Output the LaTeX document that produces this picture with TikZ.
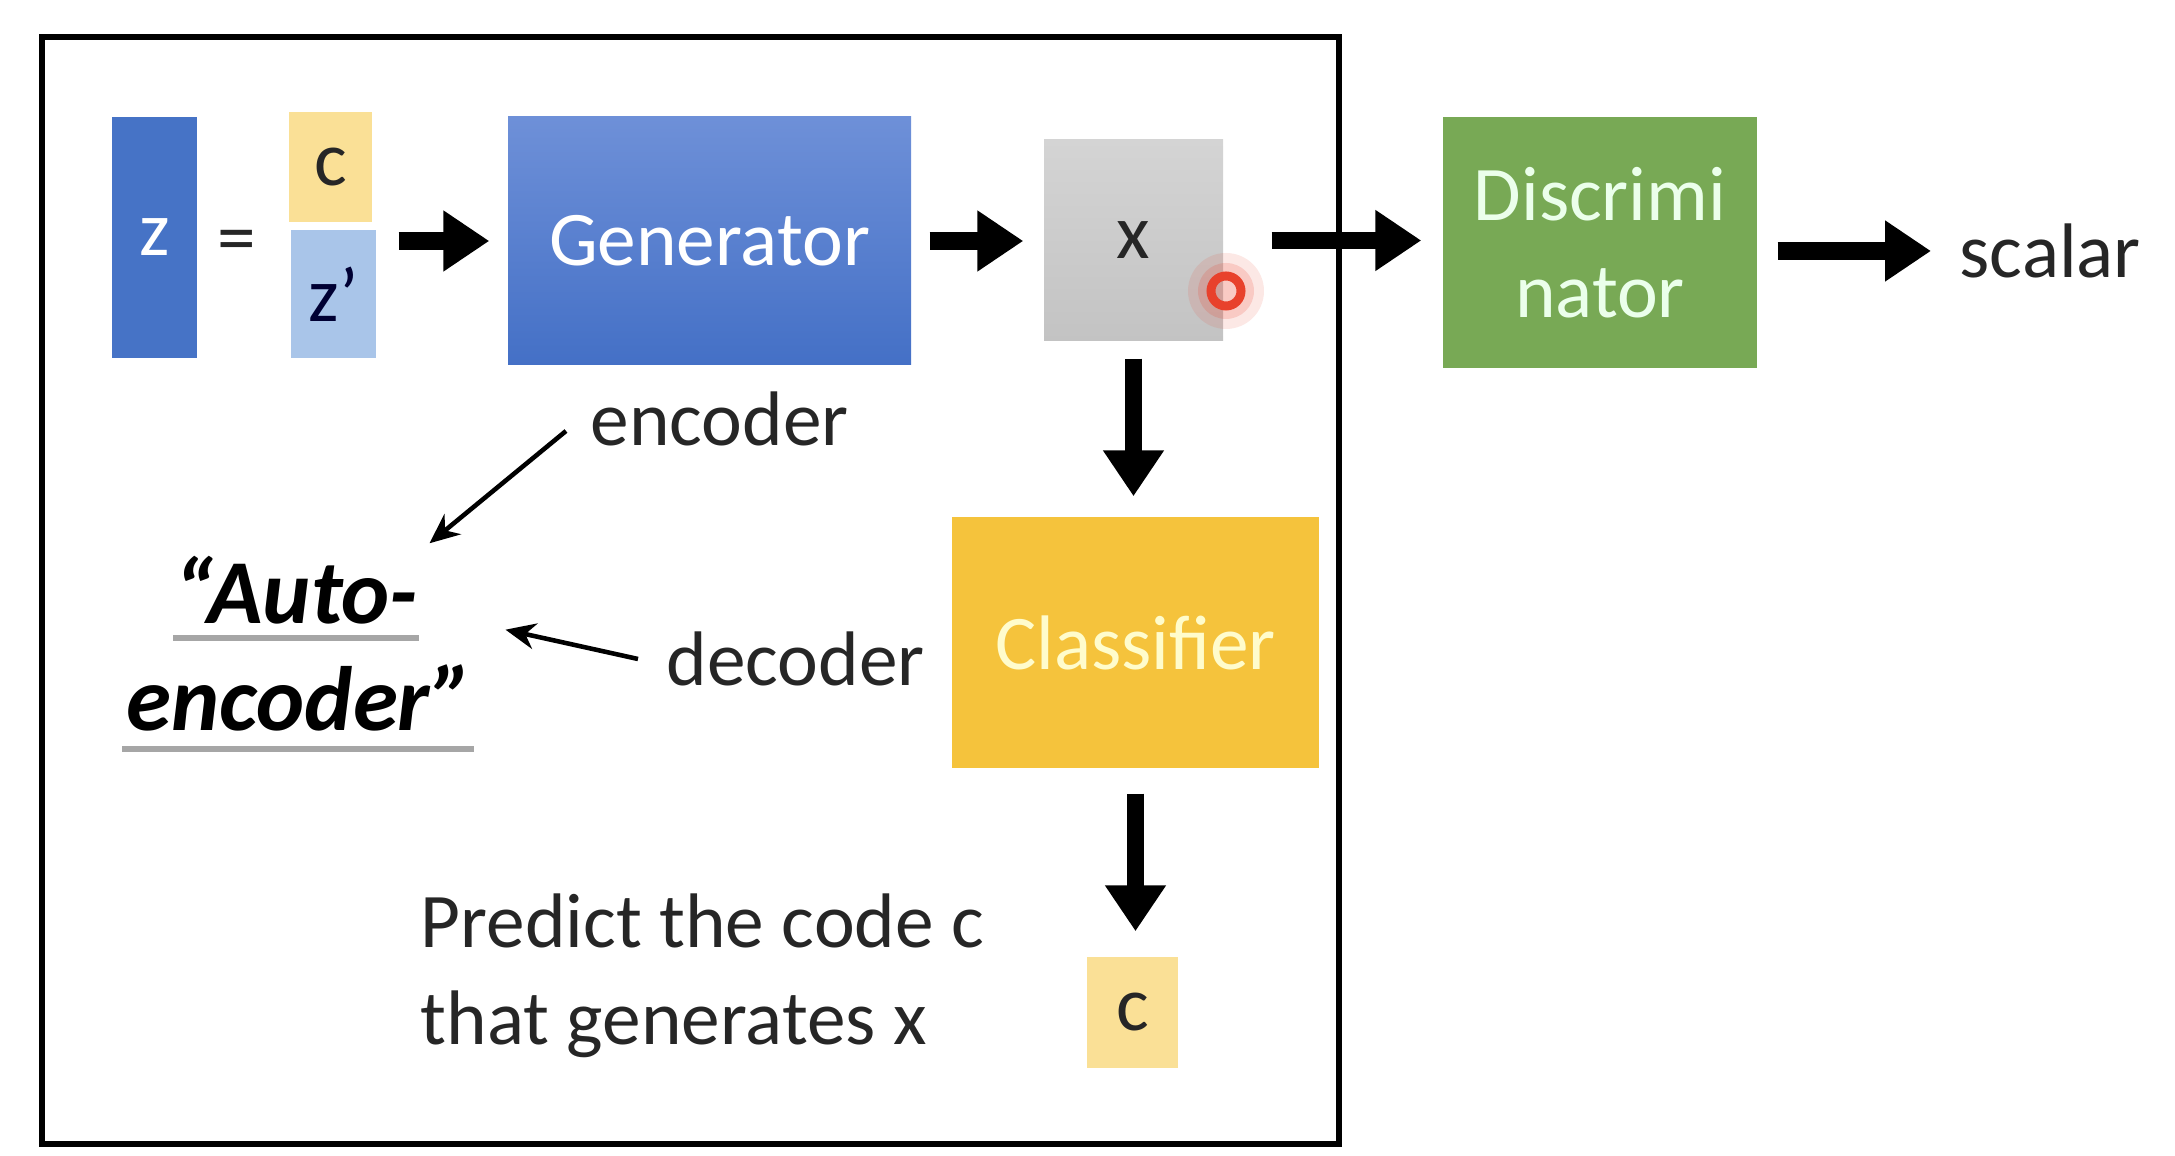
\documentclass[tikz,border=0pt]{standalone}
\usepackage{fontspec}
\setmainfont{Carlito}
\usetikzlibrary{arrows.meta}
\definecolor{zblue}{HTML}{4673C6}
\definecolor{gentop}{HTML}{6E90D8}
\definecolor{genbot}{HTML}{4470C6}
\definecolor{cyellow}{HTML}{FAE096}
\definecolor{zplight}{HTML}{A9C5E9}
\definecolor{xgray}{HTML}{D4D4D4}
\definecolor{dgreen}{HTML}{78A955}
\definecolor{clsyellow}{HTML}{F5C33C}
\definecolor{txtgray}{HTML}{262626}
\definecolor{ringred}{HTML}{E8412C}
\begin{document}
\begin{tikzpicture}[
  font=\fontsize{22}{27.5}\selectfont, text=txtgray,
  blockbox/.style={inner sep=0pt, minimum width=#1},
  bigarrow/.style={line width=5pt, -{Triangle[length=0.46cm,width=0.58cm]}},
  thinarrow/.style={line width=1.3pt, -{Stealth[length=0.3cm,width=0.26cm]}},
  uline/.style={gray!70, line width=1.6pt}
]
\useasboundingbox (0,0) rectangle (21.75,-11.56);
%\draw (0,0) grid (21,-11);
\draw [line width=1.6pt] (0.42,-0.37) rectangle (13.39,-11.44);

% input code
\node [blockbox=0.85cm, minimum height=2.41cm, fill=zblue, text=white] (z) at (1.545,-2.375) {z};
\node (eq) at (2.37,-2.47) {=};
\node [blockbox=0.83cm, minimum height=1.10cm, fill=cyellow] (c) at (3.305,-1.67) {c};
\node [blockbox=0.85cm, minimum height=1.28cm, fill=zplight, text=blue!20!black] (zp) at (3.335,-2.94) {z’};

% networks
\node [blockbox=4.03cm, minimum height=2.48cm, top color=gentop, bottom color=genbot, text=white] (gen) at (7.095,-2.41) {Generator};
\node [blockbox=1.79cm, minimum height=2.01cm, top color=xgray, bottom color=xgray!92!black] (x) at (11.335,-2.405) {x};
\node [blockbox=3.14cm, minimum height=2.51cm, fill=dgreen, text=green!8!white, align=center] (disc) at (16.0,-2.425) {Discrimi\\nator};
\node [inner sep=0pt, anchor=west] (scalar) at (19.59,-2.51) {scalar};
\node [blockbox=3.67cm, minimum height=2.51cm, fill=clsyellow, text=yellow!20!white] (cls) at (11.355,-6.425) {Classifier};
\node [blockbox=0.91cm, minimum height=1.11cm, fill=cyellow] (cout) at (11.325,-10.125) {c};

% cursor mark
\fill [ringred, opacity=0.12] (12.26,-2.91) circle (0.38);
\fill [ringred, opacity=0.18] (12.26,-2.91) circle (0.28);
\draw [ringred, line width=0.09cm] (12.26,-2.91) circle (0.15);

% labels
\node [inner sep=0pt, anchor=west] (enc) at (5.9,-4.19) {encoder};
\node [inner sep=0pt, anchor=west] (dec) at (6.66,-6.59) {decoder};
\node [inner sep=0pt, font=\fontsize{26}{30}\selectfont\bfseries\itshape, text=black] (auto1) at (2.96,-5.9) {“Auto-};
\node [inner sep=0pt, font=\fontsize{26}{30}\selectfont\bfseries\itshape, text=black] (auto2) at (3.0,-6.98) {encoder”};
\node [inner sep=0pt, anchor=west, align=left] (pred) at (4.2,-9.755) {Predict the code c\\that generates x};

\draw [uline] (1.73,-6.38) -- (4.19,-6.38);
\draw [uline] (1.22,-7.49) -- (4.74,-7.49);

% arrows
\draw [bigarrow, shorten <=0.22cm, shorten >=0.18cm] (zp.east |- gen.west) -- (gen.west);
\draw [bigarrow, shorten <=0.18cm, shorten >=0.2cm] (gen.east) -- (gen.east -| x.west);
\draw [bigarrow, shorten <=0.48cm, shorten >=0.21cm] (x.east) -- (x.east -| disc.west);
\draw [bigarrow, shorten <=0.2cm, shorten >=0.28cm] (disc.east |- scalar.west) -- (scalar.west);
\draw [bigarrow, shorten <=0.17cm, shorten >=0.2cm] (x.south) -- (x.south |- cls.north);
\draw [bigarrow, shorten <=0.25cm, shorten >=0.25cm] (cls.south) -- (cls.south |- cout.north);

\draw [thinarrow] ([shift={(-0.24,-0.12)}]enc.west) -- ([shift={(0.11,0.12)}]auto1.north east);
\draw [thinarrow] ([xshift=-0.28cm]dec.west) -- ([shift={(0.87,-0.05)}]auto1.south east);
\end{tikzpicture}
\end{document}
